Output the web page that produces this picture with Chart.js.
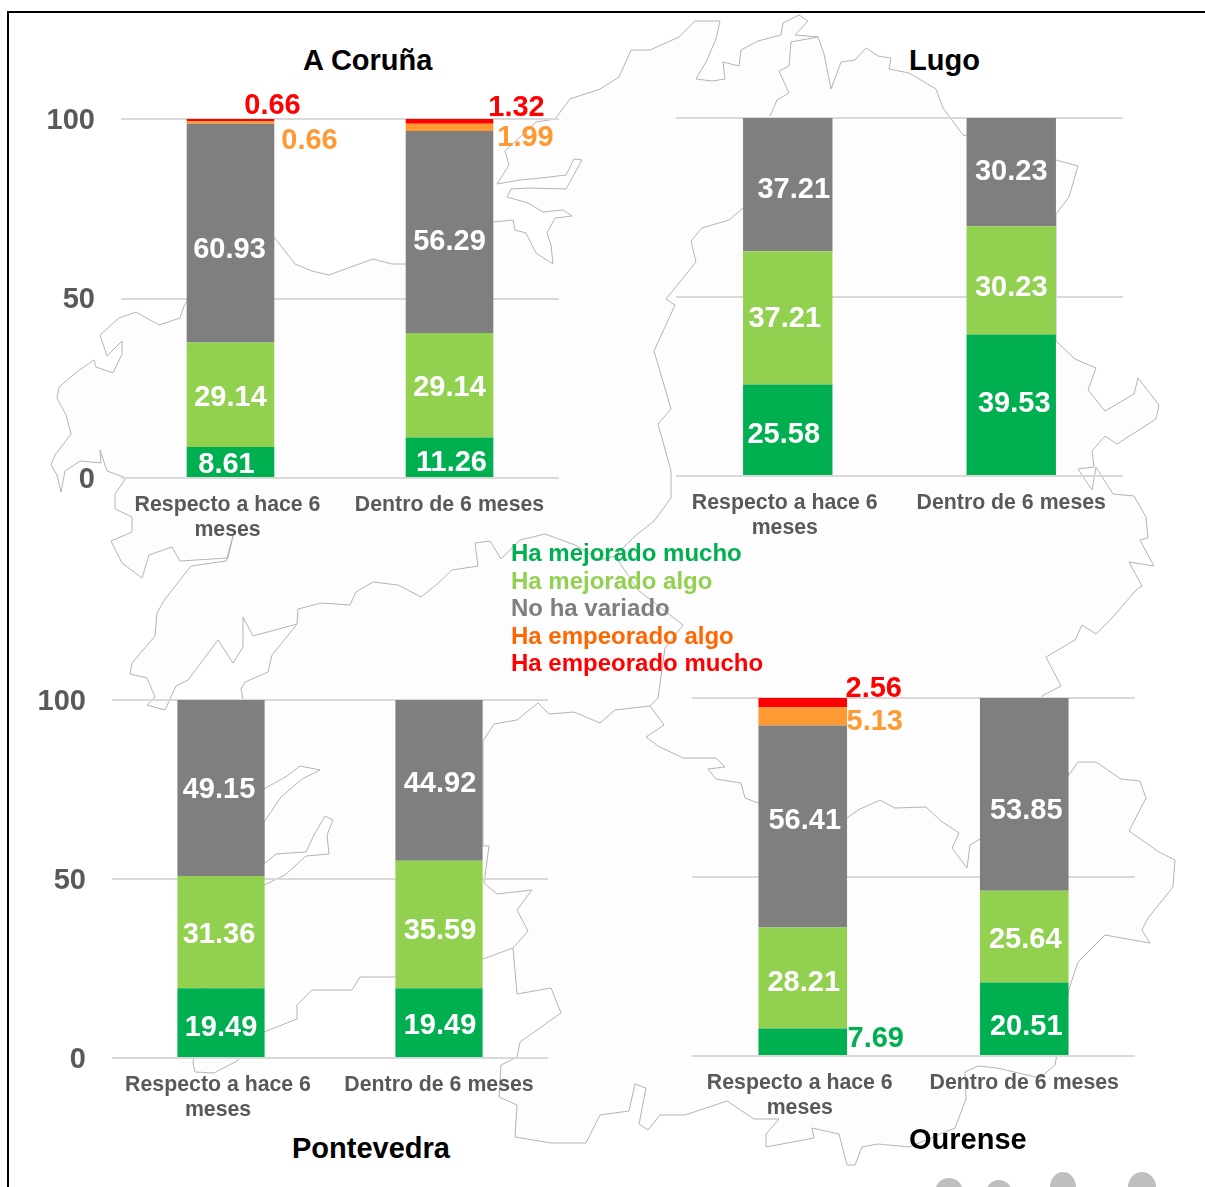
<!DOCTYPE html>
<html lang="es">
<head>
<meta charset="utf-8">
<title>Galicia</title>
<script src="https://cdn.jsdelivr.net/npm/chart.js@4"></script>
<style>
    html, body { margin: 0; padding: 0; background: #fff; }
    body { width: 1205px; height: 1187px; position: relative; overflow: hidden; font-family: 'Liberation Sans', Arial, sans-serif; }
    #map { position: absolute; left: 0; top: 0; }
    canvas { position: absolute; }
    .title { position: absolute; font-weight: bold; font-size: 29px; line-height: 34px; color: #000; white-space: nowrap; }
    #legend { position: absolute; left: 511px; top: 539px; font-weight: bold; font-size: 24px; line-height: 27.5px; white-space: nowrap; }
</style>
</head>
<body>

<!-- Mapa de fondo -->
<svg id="map" width="1205" height="1187" viewBox="0 0 1205 1187">
    <path fill="#fdfdfd" stroke="#b4b4b4" stroke-width="1" stroke-linejoin="round" d="M61 492 57 475 51 465 55 455 71 434 66 415 57 398 59 387 78 371 94 360 96 367 113 373 122 354 122 341 107 356 100 335 119 318 136 312 159 325 180 318 184 306 200 280 274 237 295 264 312 271 329 275 348 268 373 259 392 264 406 264 493 222 513 220 515 230 526 233 536 253 553 264 551 245 547 233 555 218 572 216 563 210 543 212 528 203 507 197 511 189 530 188 566 189 582 160 574 159 566 175 541 178 520 180 497 184 509 165 505 151 536 122 555 119 570 99 597 90 600 89 619 77 631 50 650 50 679 37 695 21 720 21 716 39 706 62 696 79 712 81 725 79 723 62 739 66 741 50 758 41 781 35 783 23 799 15 808 21 795 35 818 37 824 54 831 89 841 62 855 60 866 48 878 56 891 58 889 69 909 73 936 89 943 108 963 135 1056 160 1078 166 1069 197 1056 214 1056 341 1075 359 1096 368 1088 390 1105 411 1134 394 1138 378 1159 405 1156 419 1117 444 1105 436 1092 451 1094 467 1078 469 1092 490 1096 467 1113 494 1134 496 1146 517 1148 538 1140 540 1154 566 1129 562 1142 586 1136 590 1113 617 1096 634 1082 625 1075 640 1046 657 1061 686 1042 696 1069 775 1078 762 1096 762 1121 779 1140 781 1146 798 1129 831 1159 852 1175 860 1173 887 1148 918 1142 930 1150 943 1105 935 1078 962 1069 989 1055 1065 1040 1078 997 1068 978 1066 965 1072 966 1099 955 1128 909 1147 878 1144 862 1147 855 1165 847 1165 839 1134 812 1128 814 1138 766 1147 766 1134 779 1119 754 1119 727 1101 685 1115 660 1115 648 1130 639 1124 646 1088 635 1084 629 1111 600 1115 586 1143 551 1143 515 1137 517 1105 499 1097 501 1065 517 1057 520 1042 561 1013 551 988 517 994 513 948 483 959 395 977 360 977 352 990 312 990 297 1005 297 1019 264 1032 237 1061 214 1073 195 1072 193 1063 200 1000 215 950 264 885 285 875 306 856 329 854 327 835 333 820 325 816 314 835 306 852 276 854 264 864 264 822 281 797 302 779 320 770 300 766 287 776 264 789 243 699 241 689 245 682 268 672 272 655 297 624 253 636 243 617 243 647 233 663 218 640 188 680 176 686 165 710 147 705 155 697 147 678 130 674 132 663 155 636 157 613 165 599 191 566 226 561 233 536 228 558 180 561 172 547 149 555 142 578 122 563 111 541 132 532 132 517 115 509 115 494 126 478 107 471 100 450 101 463 80 461 65 471Z"/>
    <g fill="none" stroke="#b4b4b4" stroke-width="1" stroke-linejoin="round">
        <path d="M297 624 298 609 321 603 350 605 356 592 373 582 398 585 421 597 436 585 452 570 478 566 475 543 490 541 501 559 520 540 545 534 575 545 600 560 615 556 635 536 654 521 671 498 671 471 658 424 671 409 654 351 675 305 666 299 696 262 691 241 702 228 729 220 743 208"/>
        <path d="M615 556 638 590 683 625 665 648 658 698 650 706 664 725 646 737 658 746 683 758 716 758 725 767 708 769 716 779 741 783 745 798 758 803 847 818 858 810 880 800 895 808 926 807 941 821 959 833 952 848 967 868 970 845 980 839 1069 775"/>
        <path d="M650 706 615 710 600 723 574 712 549 714 538 703 517 720 494 724 483 741 483 846 489 846 484 883 497 894 532 890 517 910 528 931 513 948"/>
        <path d="M770 116 777 100 789 93 779 71 789 66 791 42 818 37"/>
    </g>
    <!-- marco -->
    <path fill="none" stroke="#000" stroke-width="2" d="M8 1187V12H1205"/>
    <!-- iconos recortados abajo a la derecha -->
    <g fill="#bfbfbf">
        <ellipse cx="949" cy="1192" rx="14" ry="14"/>
        <ellipse cx="999" cy="1193" rx="13" ry="13"/>
        <ellipse cx="1063" cy="1187" rx="13" ry="15"/>
        <ellipse cx="1142" cy="1187" rx="14" ry="15"/>
    </g>
</svg>

<canvas id="chartCoruna"></canvas>
<canvas id="chartLugo"></canvas>
<canvas id="chartPontevedra"></canvas>
<canvas id="chartOurense"></canvas>

<div class="title" style="left:303px; top:43px;">A Coruña</div>
<div class="title" style="left:909px; top:43px;">Lugo</div>
<div class="title" style="left:292px; top:1131px;">Pontevedra</div>
<div class="title" style="left:909px; top:1122px;">Ourense</div>

<div id="legend"></div>

<script>
// ── Datos ────────────────────────────────────────────────────
const categories = [['Respecto a hace 6', 'meses'], ['Dentro de 6 meses']];
const seriesNames = ['Ha mejorado mucho', 'Ha mejorado algo', 'No ha variado', 'Ha empeorado algo', 'Ha empeorado mucho'];
const yTicks = [0, 50, 100];

// una fila por serie, en el orden de seriesNames
const coruna     = [[8.61, 11.26], [29.14, 29.14], [60.93, 56.29], [0.66, 1.99], [0.66, 1.32]];
const lugo       = [[25.58, 39.53], [37.21, 30.23], [37.21, 30.23], [0, 0], [0, 0]];
const pontevedra = [[19.49, 19.49], [31.36, 35.59], [49.15, 44.92], [0, 0], [0, 0]];
const ourense    = [[7.69, 20.51], [28.21, 25.64], [56.41, 53.85], [5.13, 0], [2.56, 0]];

// ── Estilos ──────────────────────────────────────────────────
const barColors    = ['#00B050', '#92D050', '#7F7F7F', '#FF9933', '#FF0000'];
const legendColors = ['#00B050', '#92D050', '#7F7F7F', '#FF6600', '#FF0000'];

Chart.defaults.font.family = "'Liberation Sans', Arial, sans-serif";
Chart.defaults.animation = false;

// desplazamiento de cada etiqueta respecto al centro de su tramo: [dx, dy] por columna
const corunaShift     = [[[-4, 1], [2, 4]], [[0, 1.5], [0, 1]], [[-1, 15], [0, 9]], [[79, 17], [76, 9]], [[42, -16], [67, -15]]];
const lugoShift       = [[[-4, 4], [3, -2]], [[-3, 0], [0, 6]], [[6, 4], [0, -2]], [[0, 0], [0, 0]], [[0, 0], [0, 0]]];
const pontevedraShift = [[[0, 4], [1, 2]], [[-2, 1], [1, 4.5]], [[-2, 1], [1, 2]], [[0, 0], [0, 0]], [[0, 0], [0, 0]]];
const ourenseShift    = [[[73, -4], [2, 7]], [[1, 4], [1, 1.5]], [[2, -7], [2, 15]], [[72, 4], [0, 0]], [[71, -15], [0, 0]]];

// ── Etiquetas de valor ───────────────────────────────────────
const valueLabels = {
    id: 'valueLabels',
    afterDatasetsDraw(chart, args, opts) {
        const ctx = chart.ctx;
        ctx.save();
        ctx.font = "bold 29px 'Liberation Sans', Arial, sans-serif";
        ctx.textAlign = 'center';
        ctx.textBaseline = 'middle';
        chart.data.datasets.forEach((ds, i) => {
            chart.getDatasetMeta(i).data.forEach((bar, j) => {
                const v = ds.data[j];
                if (!v) return;
                const [dx, dy] = opts.shift[i][j];
                // fuera de la barra va con el color de la serie
                ctx.fillStyle = Math.abs(dx) > 40 ? ds.backgroundColor : '#fff';
                ctx.fillText(v.toFixed(2), bar.x + dx, (bar.y + bar.base) / 2 + dy + 1.5);
            });
        });
        ctx.restore();
    }
};

// ── Gráficos ─────────────────────────────────────────────────
const AXIS_W = 90, PAD_TOP = 40, PAD_RIGHT = 90, AXIS_H = 70;

function drawChart(id, values, shift, plot, showY) {
    const canvas = document.getElementById(id);
    canvas.style.left = (plot.left - AXIS_W) + 'px';
    canvas.style.top = (plot.top - PAD_TOP) + 'px';
    canvas.width = plot.right - plot.left + AXIS_W + PAD_RIGHT;
    canvas.height = plot.bottom - plot.top + PAD_TOP + AXIS_H;

    new Chart(canvas.getContext('2d'), {
        type: 'bar',
        data: {
            labels: categories,
            datasets: values.map((row, i) => ({
                label: seriesNames[i],
                data: row,
                backgroundColor: barColors[i],
                barPercentage: 1,
                categoryPercentage: 0.4
            }))
        },
        options: {
            responsive: false,
            layout: { padding: { top: PAD_TOP, right: PAD_RIGHT, left: 0, bottom: 0 } },
            plugins: {
                legend: { display: false },
                tooltip: { enabled: false },
                valueLabels: { shift }
            },
            scales: {
                x: {
                    stacked: true,
                    afterFit: s => { s.height = AXIS_H; s.paddingLeft = 0; s.paddingRight = 0; },
                    grid: { display: false },
                    border: { display: false },
                    ticks: {
                        color: '#595959',
                        padding: 6.5,
                        maxRotation: 0,
                        autoSkip: false,
                        font: { size: 21.3, weight: 'bold', lineHeight: 1.17 },
                        // el espacio final corre la primera etiqueta un poco a la izquierda, como en el original
                        callback: (v, i) => i === 0 ? categories[0].map(t => t + ' ') : categories[1]
                    }
                },
                y: {
                    stacked: true,
                    min: 0,
                    max: 100,
                    // las etiquetas del eje no deben empujar el area del grafico
                    afterFit: s => { s.width = AXIS_W; s.paddingTop = 0; s.paddingBottom = 0; },
                    afterBuildTicks: s => { s.ticks = yTicks.map(value => ({ value })); },
                    grid: { color: '#D9D9D9', lineWidth: 2, drawTicks: false },
                    border: { display: false },
                    ticks: {
                        display: showY,
                        color: '#595959',
                        padding: 26,
                        labelOffset: 1.5,
                        font: { size: 29, weight: 'bold' }
                    }
                }
            }
        },
        plugins: [valueLabels]
    });
}

drawChart('chartCoruna', coruna, corunaShift, { left: 121, right: 559, top: 119, bottom: 478 }, true);
drawChart('chartLugo', lugo, lugoShift, { left: 676, right: 1123, top: 118, bottom: 476 }, false);
drawChart('chartPontevedra', pontevedra, pontevedraShift, { left: 112, right: 548, top: 700, bottom: 1058 }, true);
drawChart('chartOurense', ourense, ourenseShift, { left: 692, right: 1135, top: 698, bottom: 1056 }, false);

// ── Leyenda ──────────────────────────────────────────────────
document.getElementById('legend').innerHTML = seriesNames
    .map((name, i) => `<div style="color:${legendColors[i]}">${name}</div>`)
    .join('');
</script>
</body>
</html>
